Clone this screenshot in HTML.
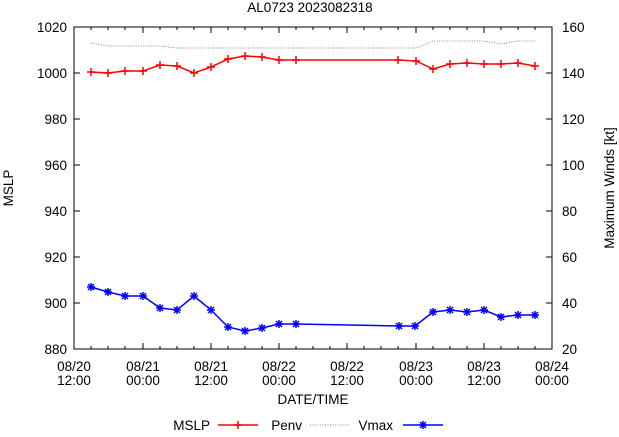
<!DOCTYPE html>
<html><head><style>
body{margin:0;background:#fff;}
text{font-family:"Liberation Sans",sans-serif;font-size:13.5px;fill:#000;}
</style></head><body>
<svg width="619" height="432" viewBox="0 0 619 432" xmlns="http://www.w3.org/2000/svg">
<defs>
<marker id="p" markerUnits="userSpaceOnUse" markerWidth="10" markerHeight="10" refX="5" refY="5" overflow="visible">
<path d="M1,5H9M5,1V9" stroke="#f00" stroke-width="1.5"/></marker>
<marker id="x" markerUnits="userSpaceOnUse" markerWidth="10" markerHeight="10" refX="5" refY="5" overflow="visible">
<path d="M1,5H9M5,1V9M2,2L8,8M2,8L8,2" stroke="#00f" stroke-width="1.5"/></marker>
</defs>
<text x="310" y="12" text-anchor="middle">AL0723 2023082318</text>
<rect x="74" y="27" width="478" height="322" fill="none" stroke="#000" stroke-width="1"/>
<g stroke="#000" stroke-width="1">
<path d="M74,27h6M74,73h6M74,119h6M74,165h6M74,211h6M74,257h6M74,303h6M74,349h6"/>
<path d="M552,27h-6M552,73h-6M552,119h-6M552,165h-6M552,211h-6M552,257h-6M552,303h-6M552,349h-6"/>
<path d="M143,349v-6M211,349v-6M279,349v-6M347,349v-6M416,349v-6M484,349v-6M143,27v6M211,27v6M279,27v6M347,27v6M416,27v6M484,27v6"/>
<path d="M91,349v-3M108,349v-3M125,349v-3M160,349v-3M177,349v-3M194,349v-3M228,349v-3M245,349v-3M262,349v-3M296,349v-3M313,349v-3M330,349v-3M364,349v-3M381,349v-3M398,349v-3M433,349v-3M450,349v-3M467,349v-3M501,349v-3M518,349v-3M535,349v-3"/>
<path d="M91,27v3M108,27v3M125,27v3M160,27v3M177,27v3M194,27v3M228,27v3M245,27v3M262,27v3M296,27v3M313,27v3M330,27v3M364,27v3M381,27v3M398,27v3M433,27v3M450,27v3M467,27v3M501,27v3M518,27v3M535,27v3"/>
</g>
<g text-anchor="end">
<text x="67" y="32">1020</text><text x="67" y="78">1000</text><text x="67" y="124">980</text><text x="67" y="170">960</text><text x="67" y="216">940</text><text x="67" y="262">920</text><text x="67" y="308">900</text><text x="67" y="354">880</text>
</g>
<g>
<text x="562" y="32">160</text><text x="562" y="78">140</text><text x="562" y="124">120</text><text x="562" y="170">100</text><text x="562" y="216">80</text><text x="562" y="262">60</text><text x="562" y="308">40</text><text x="562" y="354">20</text>
</g>
<g text-anchor="middle">
<text x="74" y="371">08/20</text><text x="74" y="385">12:00</text>
<text x="143" y="371">08/21</text><text x="143" y="385">00:00</text>
<text x="211" y="371">08/21</text><text x="211" y="385">12:00</text>
<text x="279" y="371">08/22</text><text x="279" y="385">00:00</text>
<text x="347" y="371">08/22</text><text x="347" y="385">12:00</text>
<text x="416" y="371">08/23</text><text x="416" y="385">00:00</text>
<text x="484" y="371">08/23</text><text x="484" y="385">12:00</text>
<text x="552" y="371">08/24</text><text x="552" y="385">00:00</text>
<text x="313" y="404">DATE/TIME</text>
</g>
<text transform="translate(13,188) rotate(-90)" text-anchor="middle">MSLP</text>
<text transform="translate(614,188) rotate(-90)" text-anchor="middle">Maximum Winds [kt]</text>
<polyline fill="none" stroke="#666" stroke-width="0.8" stroke-dasharray="1,1.5" points="91,43 108,46 125,46 143,46 160,46 177,48 194,48 211,48 228,48 245,48 262,48 279,48 296,48 398,48 416,48 433,41 450,41 467,41 484,41 501,44 518,41 535,41"/>
<polyline fill="none" stroke="#f00" stroke-width="1.5" marker-start="url(#p)" marker-mid="url(#p)" marker-end="url(#p)" points="91,72 108,73 125,71 143,71 160,65 177,66 194,73 211,67 228,59 245,56 262,57 279,60 296,60 398,60 416,61 433,69 450,64 467,63 484,64 501,64 518,63 535,66"/>
<polyline fill="none" stroke="#00f" stroke-width="1.5" marker-start="url(#x)" marker-mid="url(#x)" marker-end="url(#x)" points="91,287 108,292 125,296 143,296 160,308 177,310 194,296 211,310 228,327 245,331 262,328 279,324 296,324 399,326 415,326 433,312 450,310 467,312 484,310 501,317 518,315 535,315"/>
<text x="210" y="430" text-anchor="end">MSLP</text>
<polyline points="218,425 238,425 258,425" fill="none" stroke="#f00" stroke-width="1.5" marker-mid="url(#p)"/>
<text x="302" y="430" text-anchor="end">Penv</text>
<line x1="310" y1="425" x2="350" y2="425" stroke="#666" stroke-width="0.8" stroke-dasharray="1,1.5"/>
<text x="393" y="430" text-anchor="end">Vmax</text>
<polyline points="403,425 423,425 443,425" fill="none" stroke="#00f" stroke-width="1.5" marker-mid="url(#x)"/>
</svg>
</body></html>
